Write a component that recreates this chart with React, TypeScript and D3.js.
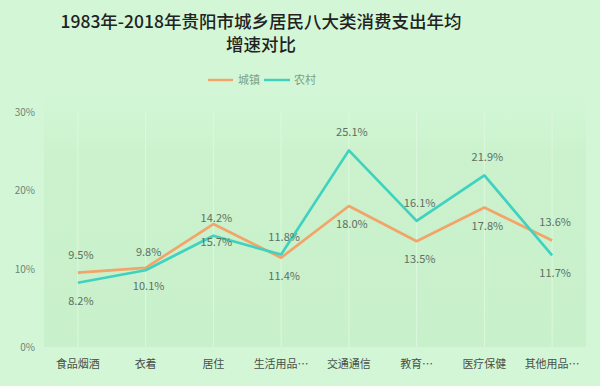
import React from "react";
import * as d3 from "d3";

const categories = ["食品烟酒", "衣着", "居住", "生活用品…", "交通通信", "教育…", "医疗保健", "其他用品…"];
const urban = [9.5, 10.1, 15.7, 11.4, 18.0, 13.5, 17.8, 13.6];
const rural = [8.2, 9.8, 14.2, 11.8, 25.1, 16.1, 21.9, 11.7];
// label side for each point: -1 above, 1 below
const urbanSide = [-1, 1, 1, 1, 1, 1, 1, -1];
const ruralSide = [1, -1, -1, -1, -1, -1, -1, 1];
const yTicks = [0, 10, 20, 30];

const W = 600;
const H = 386;
const margin = {top: 112, right: 14, bottom: 39, left: 44};

const series = [
    {name: "城镇", values: urban, side: urbanSide, color: "#f2a469"},
    {name: "农村", values: rural, side: ruralSide, color: "#3fd2c0"},
];

const App = () => {
    const x = d3
        .scalePoint()
        .domain(categories)
        .range([margin.left, W - margin.right])
        .padding(0.5);

    const y = d3
        .scaleLinear()
        .domain([0, 30])
        .range([H - margin.bottom, margin.top]);

    const line = d3
        .line<number>()
        .x((d, i) => x(categories[i]) as number)
        .y((d) => y(d));

    const font = "'Noto Sans CJK SC', 'Noto Sans', sans-serif";

    return (
        <svg width={W} height={H} style={{position: "absolute", left: 0, top: 0}} fontFamily={font}>
            <defs>
                <linearGradient id="plotBg" x1="0" x2="0" y1="0" y2="1">
                    <stop offset="0" stopColor="#d3f7d6"/>
                    <stop offset="0.25" stopColor="#cbf2cd"/>
                    <stop offset="1" stopColor="#c8f0ca"/>
                </linearGradient>
            </defs>
            <rect width={W} height={H} fill="#d3f7d6"/>
            <rect x={margin.left} y={margin.top - 20} width={W - margin.left - margin.right}
                  height={H - margin.bottom - margin.top + 20} fill="url(#plotBg)"/>

            <text x={261} y={28} textAnchor="middle" fontSize={17.5} fontWeight={500} fill="#222">
                1983年-2018年贵阳市城乡居民八大类消费支出年均
            </text>
            <text x={261} y={51} textAnchor="middle" fontSize={17.5} fontWeight={500} fill="#222">
                增速对比
            </text>

            <g fontSize={11} fill="#7f9f86">
                <line x1={208} x2={233} y1={80} y2={80} stroke="#f2a469" strokeWidth={2.5}/>
                <text x={238} y={84}>城镇</text>
                <line x1={264} x2={290} y1={80} y2={80} stroke="#3fd2c0" strokeWidth={2.5}/>
                <text x={294} y={84}>农村</text>
            </g>

            {categories.map((c) => (
                <line key={c} x1={x(c)} x2={x(c)} y1={margin.top} y2={y(0)}
                      stroke="#dcf8de" strokeWidth={1}/>
            ))}

            {yTicks.map((t) => (
                <text key={t} x={35} y={y(t) + 4} textAnchor="end" fontSize={10} fill="#6f8477">
                    {t}%
                </text>
            ))}

            {categories.map((c) => (
                <text key={c} x={x(c)} y={368} textAnchor="middle" fontSize={11} fill="#4a4f4a">
                    {c}
                </text>
            ))}

            {series.map((s) => (
                <path key={s.name} d={line(s.values) as string} fill="none" stroke={s.color}
                      strokeWidth={2.7} strokeLinejoin="round"/>
            ))}

            {series.map((s) =>
                s.values.map((v, i) => (
                    <text key={s.name + i} x={(x(categories[i]) as number) + 3}
                          y={y(v) + s.side[i] * 18 + 4} textAnchor="middle" fontSize={11} fill="#5d7063">
                        {v.toFixed(1)}%
                    </text>
                ))
            )}
        </svg>
    );
};

export default App;
